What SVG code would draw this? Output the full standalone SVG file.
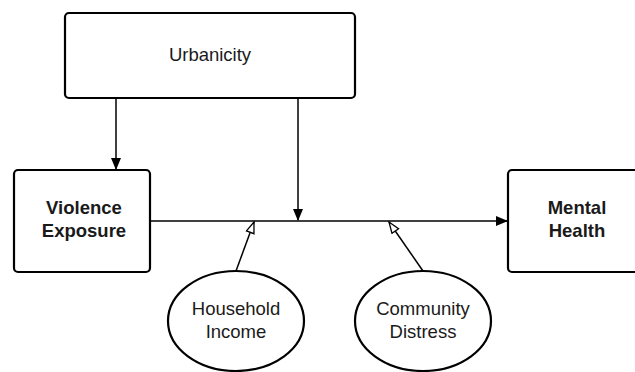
<svg xmlns="http://www.w3.org/2000/svg" width="635" height="372" viewBox="0 0 635 372">
<style>
.box{fill:#fff;stroke:#000;stroke-width:2.2}
.t{font-family:"Liberation Sans",Arial,sans-serif;font-size:18.5px;fill:#1a1a1a;text-anchor:middle}
.b{font-weight:bold}
.e{stroke:#000;stroke-width:1.5;fill:none}
</style>
<defs>
<marker id="solid" markerWidth="12" markerHeight="10" refX="11" refY="5" orient="auto" markerUnits="userSpaceOnUse">
<path d="M0,0 L12,5 L0,10 Z" fill="#000"/>
</marker>
<marker id="hollow" markerWidth="13" markerHeight="10" refX="12" refY="5" orient="auto" markerUnits="userSpaceOnUse">
<path d="M1,1 L12,5 L1,9 Z" fill="#fff" stroke="#000" stroke-width="1.3"/>
</marker>
</defs>
<g id="connectors">
<line class="e" x1="116" y1="98" x2="116" y2="169" marker-end="url(#solid)"/>
<line class="e" x1="298" y1="98" x2="298" y2="220" marker-end="url(#solid)"/>
<line class="e" x1="150" y1="221" x2="507" y2="221" marker-end="url(#solid)"/>
<line class="e" x1="236" y1="271" x2="254" y2="222" marker-end="url(#hollow)"/>
<line class="e" x1="423" y1="271" x2="389" y2="222" marker-end="url(#hollow)"/>
</g>
<g id="urbanicity">
<rect class="box" x="65" y="13" width="290" height="85" rx="4"/>
<text class="t" x="210" y="61">Urbanicity</text>
</g>
<g id="violence">
<rect class="box" x="14" y="170" width="136" height="102" rx="4"/>
<text class="t b" x="84" y="214">Violence</text>
<text class="t b" x="84" y="237">Exposure</text>
</g>
<g id="mental">
<rect class="box" x="508" y="170" width="138" height="102" rx="4"/>
<text class="t b" x="577" y="214">Mental</text>
<text class="t b" x="577" y="237">Health</text>
</g>
<g id="household">
<ellipse class="box" cx="236" cy="321" rx="68" ry="50"/>
<text class="t" x="236" y="315">Household</text>
<text class="t" x="236" y="338">Income</text>
</g>
<g id="community">
<ellipse class="box" cx="423" cy="321" rx="68" ry="50"/>
<text class="t" x="423" y="315">Community</text>
<text class="t" x="423" y="338">Distress</text>
</g>
</svg>
